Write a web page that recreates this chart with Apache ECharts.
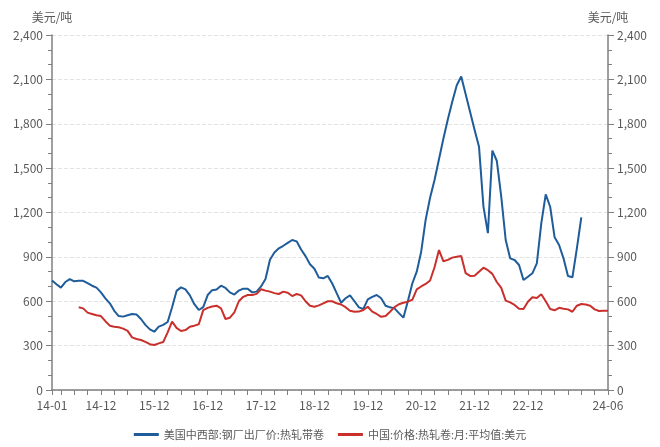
<!DOCTYPE html>
<html>
<head>
<meta charset="utf-8">
<script src="https://cdn.jsdelivr.net/npm/echarts@6/dist/echarts.min.js"></script>
<style>
  html, body { margin: 0; padding: 0; background: #fff; }
  #chart { width: 660px; height: 447px; }
</style>
</head>
<body>
<div id="chart"></div>
<script>
// 月份：14-01 ~ 24-06
const months = [];
for (let y = 14; y <= 24; y++) {
  for (let m = 1; m <= 12; m++) {
    if (y === 24 && m > 6) break;
    months.push(y + '-' + (m < 10 ? '0' + m : m));
  }
}

// 美国中西部:钢厂出厂价:热轧带卷 (14-01 ~ 23-12)
const usPrice = [
  740, 715, 692, 730, 750, 735, 738, 738, 722, 705, 692, 660,
  620, 586, 535, 500, 496, 505, 514, 510, 480, 440, 410, 394,
  428, 440, 460, 560, 670, 694, 680, 640, 580, 541, 560, 642,
  675, 680, 705, 690, 660, 645, 672, 685, 685, 660, 665, 700,
  750, 880, 930, 958, 975, 995, 1014, 1005, 950, 905, 850, 820,
  760, 755, 771, 720, 655, 590, 620, 640, 600, 559, 548, 613,
  630, 642, 620, 570, 559, 552, 520, 489, 600, 720, 800, 935,
  1150, 1300, 1420, 1560, 1700, 1830, 1950, 2060, 2120, 2000, 1880, 1760,
  1645, 1240, 1060, 1618, 1550, 1307, 1014, 890, 879, 845, 744, 766,
  789, 856, 1127, 1323, 1239, 1032, 980, 890, 771, 762, 958, 1167,
  null, null, null, null, null, null
];

// 中国:价格:热轧卷:月:平均值:美元 (14-07 ~ 24-06)
const cnPrice = [
  null, null, null, null, null, null, 559, 552, 523, 514, 505, 500,
  465, 435, 428, 424, 415, 400, 356, 345, 338, 325, 310, 304,
  315, 324, 390, 462, 420, 399, 405, 428, 435, 444, 540, 555,
  565, 570, 552, 480, 489, 525, 600, 630, 642, 642, 650, 681,
  672, 665, 655, 649, 665, 658, 635, 649, 640, 600, 570, 563,
  572, 586, 600, 600, 586, 578, 560, 536, 529, 530, 541, 563,
  530, 514, 495, 500, 529, 560, 580, 590, 597, 610, 680, 700,
  717, 740, 830, 946, 870, 880, 895, 901, 906, 790, 771, 773,
  800, 827, 810, 785, 730, 690, 604, 592, 575, 550, 548, 597,
  627, 622, 647, 600, 548, 539, 556, 550, 545, 529, 570, 581,
  578, 570, 545, 534, 536, 536
];

const seriesNames = ['美国中西部:钢厂出厂价:热轧带卷', '中国:价格:热轧卷:月:平均值:美元'];
const unitName = '美元/吨';

const lastIdx = months.length - 1;
const fontFamily = '"Noto Sans CJK SC", "Noto Sans", sans-serif';
const axisColor = '#7f7f7f';
const textColor = '#595959';

const fmt = v => v.toLocaleString('en-US');

const yAxisBase = {
  type: 'value',
  min: 0,
  max: 2400,
  interval: 300,
  name: unitName,
  nameGap: 12,
  nameTextStyle: { color: textColor, fontSize: 12, fontFamily: fontFamily },
  axisLine: { show: true, lineStyle: { color: axisColor, width: 1.5 } },
  axisTick: { show: true, length: 6, lineStyle: { color: axisColor } },
  minorTick: { show: true, splitNumber: 3, length: 4, lineStyle: { color: axisColor } },
  axisLabel: { color: textColor, fontSize: 12, margin: 9, formatter: fmt, fontFamily: fontFamily }
};

const myChart = echarts.init(document.getElementById('chart'));
const option = {
  animation: false,
  grid: { left: 52, right: 52, top: 35, bottom: 57 },
  legend: {
    bottom: 2,
    left: 'center',
    icon: 'rect',
    itemWidth: 25,
    itemHeight: 3,
    itemGap: 14,
    textStyle: { color: textColor, fontSize: 11, fontFamily: fontFamily },
    data: seriesNames
  },
  xAxis: {
    type: 'category',
    data: months,
    boundaryGap: false,
    axisLine: { lineStyle: { color: axisColor, width: 1.5 } },
    axisTick: {
      length: 5,
      lineStyle: { color: axisColor },
      interval: (i) => i === 0 || i % 3 === 2
    },
    axisLabel: {
      color: textColor,
      fontSize: 12,
      margin: 9,
      fontFamily: fontFamily,
      interval: (i) => i === 0 || i === lastIdx || (i % 12 === 11 && i < lastIdx - 8)
    }
  },
  yAxis: [
    Object.assign({}, yAxisBase, {
      position: 'left',
      splitLine: { show: true, lineStyle: { color: '#e3e3e3', type: 'dashed' } }
    }),
    Object.assign({}, yAxisBase, {
      position: 'right',
      splitLine: { show: false }
    })
  ],
  series: [
    {
      name: seriesNames[0],
      type: 'line',
      data: usPrice,
      symbol: 'none',
      lineStyle: { width: 2, color: '#1f5c9a' },
      itemStyle: { color: '#1f5c9a' }
    },
    {
      name: seriesNames[1],
      type: 'line',
      data: cnPrice,
      symbol: 'none',
      lineStyle: { width: 2, color: '#c9302c' },
      itemStyle: { color: '#c9302c' }
    }
  ]
};
option && myChart.setOption(option);
</script>
</body>
</html>
